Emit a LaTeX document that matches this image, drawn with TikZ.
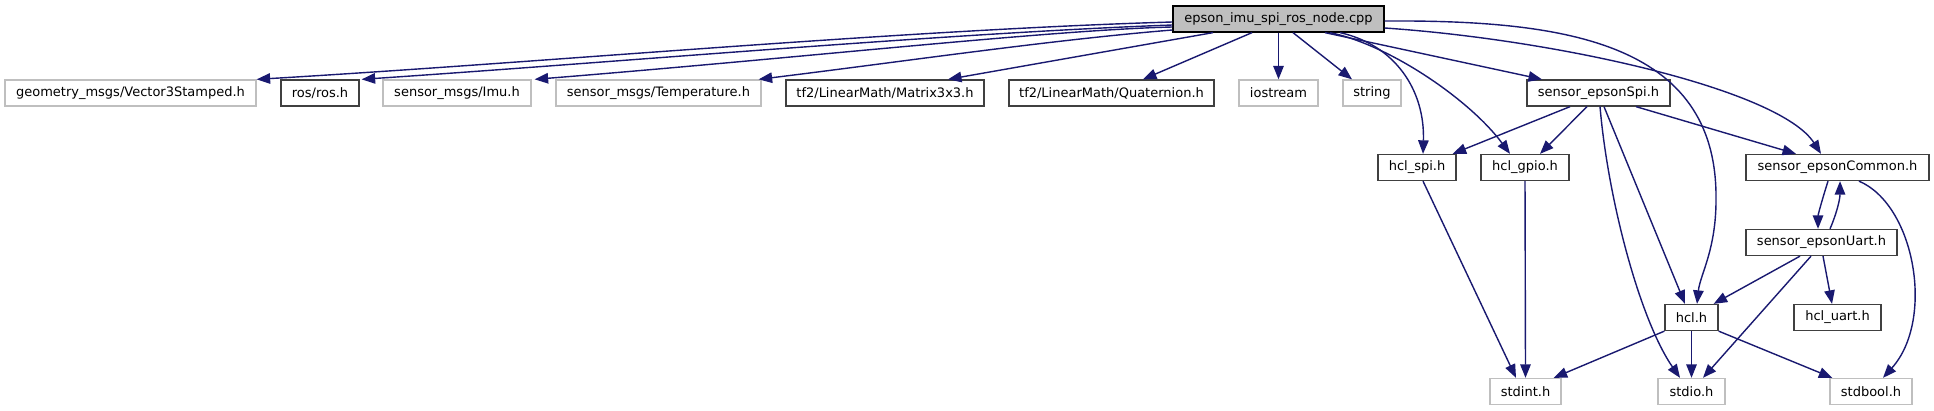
\documentclass[tikz,border=0pt]{standalone}
\usepackage{fontspec}
\setmainfont{DejaVu Sans}
\usetikzlibrary{arrows.meta,calc}
\definecolor{edgeblue}{HTML}{191970}
\definecolor{lgray}{HTML}{BFBFBF}
\definecolor{dgray}{HTML}{404040}
\begin{document}
\begin{tikzpicture}[x=1pt,y=-1pt,
  box/.style={draw=dgray,line width=1.3pt,rectangle,minimum height=26pt,inner sep=0pt,font=\fontsize{13}{15}\selectfont,text=black},
  ext/.style={box,draw=lgray},
  mainbox/.style={box,fill=lgray,draw=black},
  dep/.style={draw=edgeblue,line width=1.4pt,-{Triangle[length=13.5pt,width=10.5pt]}},
]
\useasboundingbox[fill=white] (0,0) rectangle (1934,411);
% row 0
\node[mainbox,minimum width=211pt] (epson) at (1278.5,19) {epson\_imu\_spi\_ros\_node.cpp};
% row 1
\node[ext,minimum width=251pt] (geom) at (130.5,93) {geometry\_msgs/Vector3Stamped.h};
\node[box,minimum width=78pt] (ros) at (320,93) {ros/ros.h};
\node[ext,minimum width=148pt] (imu) at (457,93) {sensor\_msgs/Imu.h};
\node[ext,minimum width=205pt] (temp) at (658.5,93) {sensor\_msgs/Temperature.h};
\node[box,minimum width=198pt] (matrix) at (885,93) {tf2/LinearMath/Matrix3x3.h};
\node[box,minimum width=205pt] (quat) at (1111.5,93) {tf2/LinearMath/Quaternion.h};
\node[ext,minimum width=79pt] (iostream) at (1278.5,93) {iostream};
\node[ext,minimum width=58pt] (string) at (1372,93) {string};
\node[box,minimum width=143pt] (spi) at (1598.5,93) {sensor\_epsonSpi.h};
% row 2
\node[box,minimum width=78pt] (hclspi) at (1417,167.5) {hcl\_spi.h};
\node[box,minimum width=88pt] (gpio) at (1525,167.5) {hcl\_gpio.h};
\node[box,minimum width=183pt] (common) at (1837.5,167.5) {sensor\_epsonCommon.h};
% row 3
\node[box,minimum width=151pt] (uart) at (1821.5,242.5) {sensor\_epsonUart.h};
% row 4
\node[box,minimum width=53pt] (hcl) at (1691.5,317.5) {hcl.h};
\node[box,minimum width=87pt] (hcluart) at (1837.5,317.5) {hcl\_uart.h};
% row 5
\node[ext,minimum width=71pt] (stdint) at (1525.5,391.5) {stdint.h};
\node[ext,minimum width=67pt] (stdio) at (1691.5,391.5) {stdio.h};
\node[ext,minimum width=82pt] (stdbool) at (1871,391.5) {stdbool.h};
\coordinate (hclbend) at (1716,200);
% edges from epson
\draw[dep] ($(epson.west)+(0,3)$) .. controls (900,30) and (550,62) .. (geom.north east);
\draw[dep] ($(epson.west)+(0,6)$) .. controls (950,33) and (620,62) .. ($(ros.north east)+(2,0)$);
\draw[dep] ($(epson.west)+(0,8)$) .. controls (1050,30) and (800,58) .. ($(imu.north east)+(3,0)$);
\draw[dep] ($(epson.west)+(0,11)$) .. controls (1050,40) and (900,62) .. ($(temp.north east)+(-3,0)$);
\draw[dep] ($(epson.south)+(-65.5,0)$) -- ($(matrix.north)+(63,0)$);
\draw[dep] ($(epson.south)+(-26.5,0)$) -- ($(quat.north)+(31.5,0)$);
\draw[dep] (epson.south) -- (iostream.north);
\draw[dep] ($(epson.south)+(14.5,0)$) -- ($(string.north)+(-20,0)$);
\draw[dep] ($(epson.south)+(61.5,0)$) .. controls (1395,45) and (1425,90) .. ($(hclspi.north)+(6,0)$);
\draw[dep] ($(epson.south)+(51.5,0)$) .. controls (1390,45) and (1470,100) .. ($(gpio.north)+(-15,0)$);
\draw[dep] ($(epson.south)+(46.5,0)$) -- ($(spi.north)+(-56.5,0)$);
\draw[dep] ($(epson.east)+(0,9)$) .. controls (1560,40) and (1780,90) .. ($(common.north)+(-16.5,0)$);
\draw[dep] ($(epson.east)+(0,2)$) .. controls (1560,20) and (1718,40) .. (hclbend) .. controls (1716,250) and (1700,275) .. ($(hcl.north)+(5.5,0)$);
% edges from sensor_epsonSpi
\draw[dep] ($(spi.south)+(-28.5,0)$) -- ($(hclspi.north east)+(-4,0)$);
\draw[dep] ($(spi.south)+(-11.5,0)$) -- ($(gpio.north)+(15,0)$);
\draw[dep] ($(spi.south)+(37.5,0)$) -- ($(common.north)+(-41.5,0)$);
\draw[dep] ($(spi.south)+(1.5,0)$) .. controls (1608,200) and (1640,320) .. ($(stdio.north)+(-11.5,0)$);
\draw[dep] ($(spi.south)+(5.5,0)$) -- ($(hcl.north)+(-6.5,0)$);
% row 2 edges
\draw[dep] ($(hclspi.south)+(6,0)$) -- ($(stdint.north)+(-9.5,0)$);
\draw[dep] (gpio.south) -- (stdint.north);
\draw[dep] ($(common.south)+(-9.5,0)$) .. controls (1822,200) and (1818,215) .. ($(uart.north)+(-3.5,0)$);
\draw[dep] ($(uart.north)+(8.5,0)$) .. controls (1836,215) and (1840,200) .. ($(common.south)+(2.5,0)$);
\draw[dep] ($(common.south)+(21.5,0)$) .. controls (1915,205) and (1935,320) .. ($(stdbool.north)+(12,0)$);
% uart edges
\draw[dep] ($(uart.south)+(-21.5,0)$) -- ($(hcl.north east)+(-5,0)$);
\draw[dep] ($(uart.south)+(-10.5,0)$) -- ($(stdio.north)+(11.5,0)$);
\draw[dep] ($(uart.south)+(1.5,0)$) -- ($(hcluart.north)+(-5.5,0)$);
% hcl edges
\draw[dep] (hcl.south west) -- ($(stdint.north east)+(-8,0)$);
\draw[dep] (hcl.south) -- (stdio.north);
\draw[dep] (hcl.south east) -- ($(stdbool.north west)+(3,0)$);
\end{tikzpicture}
\end{document}
